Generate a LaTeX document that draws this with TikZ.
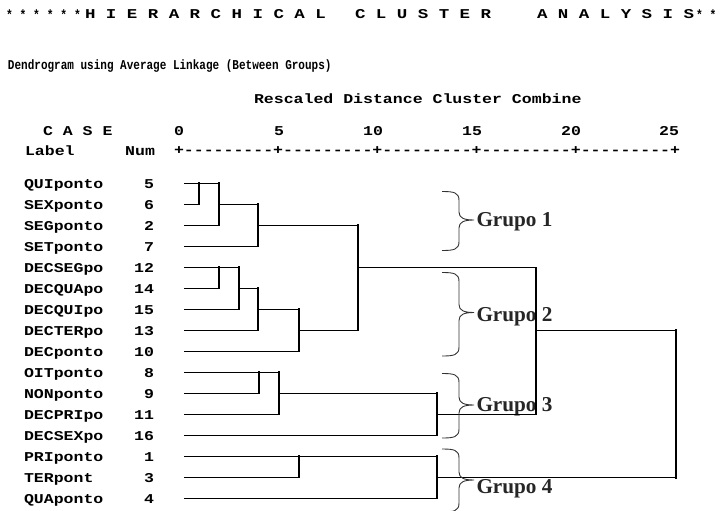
\documentclass[tikz,border=0pt]{standalone}
\usepackage{fontspec}
\usepackage{graphicx}
\newfontfamily\spssmono{Liberation Mono}
\newfontfamily\grpserif{Liberation Serif}
\newcommand\spssfont{\spssmono\bfseries\fontsize{13.5}{14}\selectfont}
\newcommand\spssbody[1]{\scalebox{1.225}[1]{\spssfont #1}}
\newcommand\spsstitle[1]{\scalebox{0.815}[1]{\spssfont #1}}
\newcommand\spsshead[1]{\scalebox{1.293}[1]{\spssfont #1}}
\newcommand\spssast[1]{\scalebox{0.84}[1]{\spssfont #1}}
\newcommand\grbrace[3]{%
  \draw[brc] (442,#1) .. controls (454,#1) and (459,#1+1) .. (459,#1+9)
    -- (459,#2-8) .. controls (459,#2-2) and (464,#2) .. (474,#2)
    .. controls (464,#2) and (459,#2+2) .. (459,#2+8)
    -- (459,#3-9) .. controls (459,#3-1) and (454,#3) .. (442,#3);}
\begin{document}
\begin{tikzpicture}[x=1pt,y=-1pt,
  txt/.style={inner sep=0pt,outer sep=0pt},
  hl/.style={line width=1.3pt,black},
  vl/.style={line width=2pt,black,line cap=rect},
  brc/.style={line width=0.9pt,black!80},
  grp/.style={inner sep=0pt,outer sep=0pt,anchor=base west,text=black!85,
    font=\grpserif\bfseries\fontsize{21.2}{23}\selectfont}]
\useasboundingbox[fill=white] (0,0) rectangle (720,511);
\clip (0,0) rectangle (720,511);

% header
\node[txt,anchor=base west] (ast1) at (6,19.5) {\spssast{* * * * * *}};
\node[txt,anchor=base west] (h1) at (85,19) {\spsshead{H I E R A R C H I C A L}};
\node[txt,anchor=base west] (h2) at (355,19) {\spsshead{C L U S T E R}};
\node[txt,anchor=base west] (h3) at (537,19) {\spsshead{A N A L Y S I S}};
\node[txt,anchor=base west] (ast2) at (696,19.5) {\spssast{* *}};

\node[txt,anchor=base west] (title) at (8,70) {\spsstitle{Dendrogram using Average Linkage (Between Groups)}};
\node[txt,anchor=base west] (resc) at (254,103) {\spssbody{Rescaled Distance Cluster Combine}};

\node[txt,anchor=base west] (case) at (43,135) {\spssbody{C A S E}};
\node[txt,anchor=base] (t0) at (179,135) {\spssbody{0}};
\node[txt,anchor=base] (t5) at (279,135) {\spssbody{5}};
\node[txt,anchor=base] (t10) at (373,135) {\spssbody{10}};
\node[txt,anchor=base] (t15) at (472,135) {\spssbody{15}};
\node[txt,anchor=base] (t20) at (571,135) {\spssbody{20}};
\node[txt,anchor=base] (t25) at (669,135) {\spssbody{25}};
\node[txt,anchor=base west] (lbl) at (25,155) {\spssbody{Label}};
\node[txt,anchor=base east] (nm) at (155,155) {\spssbody{Num}};
\node[txt,anchor=base west] (axis) at (174,154) {\spssbody{+---------+---------+---------+---------+---------+}};

% leaves
\foreach \i/\lab/\num in {0/QUIponto/5, 1/SEXponto/6, 2/SEGponto/2, 3/SETponto/7,
  4/DECSEGpo/12, 5/DECQUApo/14, 6/DECQUIpo/15, 7/DECTERpo/13, 8/DECponto/10,
  9/OITponto/8, 10/NONponto/9, 11/DECPRIpo/11, 12/DECSEXpo/16, 13/PRIponto/1,
  14/TERpont/3, 15/QUAponto/4}{
  \pgfmathsetmacro\ry{183.3+21*\i}
  \coordinate (L\i) at (184,\ry);
  \node[txt,anchor=base west] (lab\i) at (24,\ry+5) {\spssbody{\lab}};
  \node[txt,anchor=base east] (num\i) at (154,\ry+5) {\spssbody{\num}};
}

% merge levels
\coordinate (xa) at (199.3,0);
\coordinate (xb) at (219.3,0);
\coordinate (xc) at (239.3,0);
\coordinate (xd) at (258.3,0);
\coordinate (xe) at (259.3,0);
\coordinate (xf) at (279.3,0);
\coordinate (xg) at (298.6,0);
\coordinate (xi) at (358.3,0);
\coordinate (xj) at (436.7,0);
\coordinate (xk) at (536,0);
\coordinate (xl) at (676,0);

% group labels
\node[grp] (g1) at (476.5,226.7) {Grupo 1};
\node[grp] (g2) at (476.5,321.5) {Grupo 2};
\node[grp] (g3) at (476.5,411.5) {Grupo 3};
\node[grp] (g4) at (476.5,493.3) {Grupo 4};

% horizontals from leaves
\draw[hl] (L0) -- (L0 -| xb);
\draw[hl] (L1) -- (L1 -| xa);
\draw[hl] (L2) -- (L2 -| xb);
\draw[hl] (L3) -- (L3 -| xd);
\draw[hl] (L4) -- (L4 -| xc);
\draw[hl] (L5) -- (L5 -| xb);
\draw[hl] (L6) -- (L6 -| xc);
\draw[hl] (L7) -- (L7 -| xd);
\draw[hl] (L8) -- (L8 -| xg);
\draw[hl] (L9) -- (L9 -| xf);
\draw[hl] (L10) -- (L10 -| xe);
\draw[hl] (L11) -- (L11 -| xf);
\draw[hl] (L12) -- (L12 -| xj);
\draw[hl] (L13) -- (L13 -| xj);
\draw[hl] (L14) -- (L14 -| xg);
\draw[hl] (L15) -- (L15 -| xj);
% horizontals from merges
\draw[hl] (L1 -| xb) -- (L1 -| xd);
\draw[hl] (L2 -| xd) -- (L2 -| xi);
\draw[hl] (L5 -| xc) -- (L5 -| xd);
\draw[hl] (L6 -| xd) -- (L6 -| xg);
\draw[hl] (L7 -| xg) -- (L7 -| xi);
\draw[hl] (L4 -| xi) -- (L4 -| xk);
\draw[hl] (L10 -| xf) -- (L10 -| xj);
\draw[hl] (L11 -| xj) -- (L11 -| xk);
\draw[hl] (L7 -| xk) -- (L7 -| xl);
\draw[hl] (L14 -| xj) -- (L14 -| xl);
% verticals
\draw[vl] (L0 -| xa) -- (L1 -| xa);
\draw[vl] (L0 -| xb) -- (L2 -| xb);
\draw[vl] (L1 -| xd) -- (L3 -| xd);
\draw[vl] (L4 -| xb) -- (L5 -| xb);
\draw[vl] (L4 -| xc) -- (L6 -| xc);
\draw[vl] (L5 -| xd) -- (L7 -| xd);
\draw[vl] (L6 -| xg) -- (L8 -| xg);
\draw[vl] (L2 -| xi) -- (L7 -| xi);
\draw[vl] (L9 -| xe) -- (L10 -| xe);
\draw[vl] (L9 -| xf) -- (L11 -| xf);
\draw[vl] (L10 -| xj) -- (L12 -| xj);
\draw[vl,line width=1.4pt] (L4 -| xk) -- (L11 -| xk);
\draw[vl] (L13 -| xg) -- (L14 -| xg);
\draw[vl] (L13 -| xj) -- (L15 -| xj);
\draw[vl,line width=2.8pt] (L7 -| xl) -- (L14 -| xl);

% braces
\grbrace{191.5}{220}{250.5}
\grbrace{272.5}{312.5}{356}
\grbrace{373.5}{405}{438}
\grbrace{449}{480}{512}
\end{tikzpicture}
\end{document}
